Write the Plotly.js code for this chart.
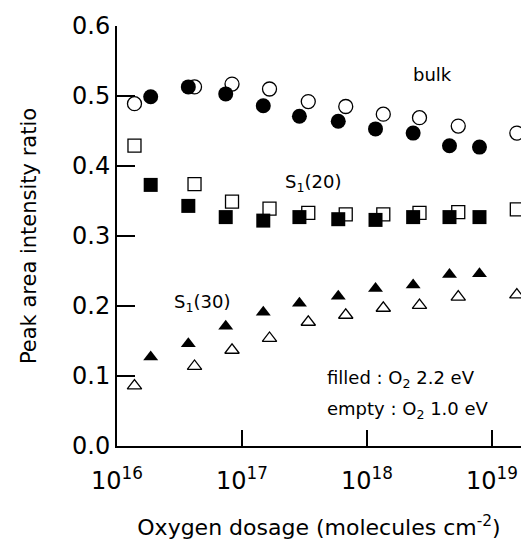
<!DOCTYPE html>
<html><head><meta charset="utf-8">
<script src="https://cdn.plot.ly/plotly-3.0.1.min.js"></script>
<style>html,body{margin:0;padding:0;background:#fff}</style>
</head><body><div id="chart" style="width:521px;height:544px"></div>
<script>
// Oxygen dosage (molecules cm^-2)
const doseFilled = [1.86e16, 3.72e16, 7.41e16, 1.48e17, 2.88e17, 5.89e17, 1.17e18, 2.34e18, 4.57e18, 7.94e18];
const doseEmpty  = [1.38e16, 4.17e16, 8.32e16, 1.66e17, 3.39e17, 6.76e17, 1.35e18, 2.63e18, 5.37e18, 1.58e19];
// Peak area intensity ratio
const bulkFilled = [0.499, 0.513, 0.503, 0.486, 0.471, 0.464, 0.453, 0.447, 0.429, 0.427];
const bulkEmpty  = [0.489, 0.513, 0.517, 0.510, 0.492, 0.485, 0.474, 0.469, 0.457, 0.447];
const s20Filled  = [0.373, 0.343, 0.327, 0.322, 0.327, 0.324, 0.323, 0.327, 0.327, 0.327];
const s20Empty   = [0.429, 0.374, 0.349, 0.339, 0.333, 0.331, 0.331, 0.333, 0.334, 0.338];
const s30Filled  = [0.127, 0.146, 0.171, 0.191, 0.204, 0.214, 0.225, 0.230, 0.245, 0.246];
const s30Empty   = [0.086, 0.114, 0.137, 0.154, 0.177, 0.187, 0.197, 0.201, 0.213, 0.216];
const xTickVals = [1e16, 1e17, 1e18, 1e19];
const xTickText = ['10<sup>16</sup>', '10<sup>17</sup>', '10<sup>18</sup>', '10<sup>19</sup>'];

const FONT = 'DejaVu Sans, Verdana, sans-serif';
function tr(x, y, name, symbol, filled, size) {
  return {
    x: x, y: y, name: name, type: 'scatter', mode: 'markers', showlegend: false,
    marker: {
      symbol: symbol, size: size,
      color: filled ? '#000' : '#fff',
      line: {color: '#000', width: filled ? 0 : 1.3}
    }
  };
}
const data = [
  tr(doseEmpty, bulkEmpty, 'bulk empty', 'circle', false, 14),
  tr(doseFilled, bulkFilled, 'bulk filled', 'circle', true, 15),
  tr(doseEmpty, s20Empty, 'S1(20) empty', 'square', false, 13),
  tr(doseFilled, s20Filled, 'S1(20) filled', 'square', true, 14),
  tr(doseEmpty, s30Empty, 'S1(30) empty', 'triangle-up', false, 12.5),
  tr(doseFilled, s30Filled, 'S1(30) filled', 'triangle-up', true, 13)
];
const layout = {
  width: 521, height: 544,
  margin: {l: 117, r: 0, t: 26, b: 98},
  paper_bgcolor: '#fff', plot_bgcolor: '#fff',
  font: {family: FONT, color: '#000', size: 24},
  xaxis: {
    type: 'log', range: [16, 19.232],
    tickvals: xTickVals, ticktext: xTickText,
    ticks: 'inside', ticklen: 16, tickwidth: 2, tickcolor: '#000',
    ticklabelstandoff: 12,
    showline: true, linecolor: '#000', linewidth: 2,
    showgrid: false, zeroline: false,
    tickfont: {family: FONT, size: 24},
    title: {text: 'Oxygen dosage (molecules cm<sup>-2</sup>)', font: {family: FONT, size: 22}, standoff: 26}
  },
  yaxis: {
    range: [0, 0.6], tickvals: [0, 0.1, 0.2, 0.3, 0.4, 0.5, 0.6], tickformat: '.1f',
    ticks: 'inside', ticklen: 18, tickwidth: 2, tickcolor: '#000',
    showline: true, linecolor: '#000', linewidth: 2,
    showgrid: false, zeroline: false,
    tickfont: {family: FONT, size: 24},
    title: {text: 'Peak area intensity ratio', font: {family: FONT, size: 21}, standoff: 30}
  },
  annotations: [
    {x: 432, y: 74, text: 'bulk'},
    {x: 313, y: 183, text: 'S<sub>1</sub>(20)'},
    {x: 202, y: 303, text: 'S<sub>1</sub>(30)'},
    {x: 325, y: 379, text: 'filled : O<sub>2</sub> 2.2 eV', xanchor: 'left'},
    {x: 325, y: 410, text: 'empty : O<sub>2</sub> 1.0 eV', xanchor: 'left'}
  ].map(a => Object.assign({
    xref: 'paper', yref: 'paper', showarrow: false, xanchor: 'center', yanchor: 'middle',
    font: {family: FONT, size: 18, color: '#000'}
  }, a, {x: (a.x - 117) / 404, y: (446 - a.y) / 420}))
};
Plotly.newPlot('chart', data, layout, {displayModeBar: false, staticPlot: true});
</script></body></html>
